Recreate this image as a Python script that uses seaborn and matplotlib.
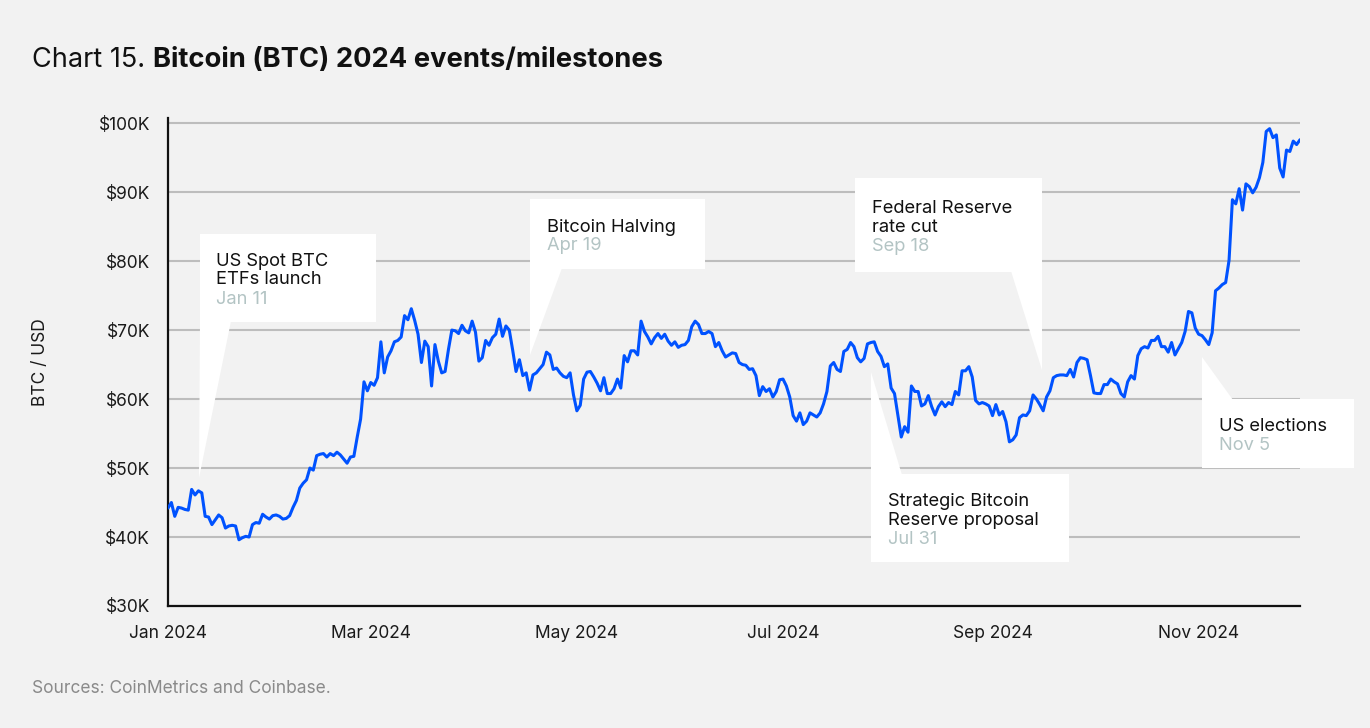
import matplotlib
matplotlib.use("Agg")
import matplotlib.pyplot as plt
from matplotlib.patches import Polygon, Rectangle
import seaborn as sns
import pandas as pd

# BTC / USD daily close, in $K
jan = [44.2, 45.0, 43.0, 44.3, 44.2, 44.0, 43.9, 46.9, 46.1, 46.7, 46.4, 43.0, 42.9, 41.8, 42.5, 43.2,
       42.8, 41.3, 41.6, 41.7, 41.6, 39.6, 39.9, 40.1, 40.0, 41.8, 42.1, 42.0, 43.3, 42.9, 42.6]
feb = [43.1, 43.2, 43.0, 42.6, 42.7, 43.1, 44.3, 45.3, 47.1, 47.8, 48.3, 50.0, 49.7, 51.8, 52.0,
       52.1, 51.6, 52.1, 51.8, 52.3, 51.9, 51.3, 50.7, 51.6, 51.7, 54.5, 57.1, 62.5, 61.2]
mar = [62.4, 62.0, 63.1, 68.3, 63.8, 66.1, 67.0, 68.3, 68.5, 69.0, 72.1, 71.5, 73.1, 71.4, 69.4, 65.3,
       68.4, 67.6, 61.9, 67.9, 65.5, 63.8, 64.0, 67.2, 70.0, 69.9, 69.5, 70.7, 69.9, 69.6, 71.3]
apr = [69.7, 65.5, 66.0, 68.5, 67.8, 68.9, 69.4, 71.6, 69.1, 70.6, 70.0, 67.1, 64.0, 65.7, 63.4,
       63.8, 61.3, 63.5, 63.8, 64.4, 65.0, 66.8, 66.4, 64.3, 64.5, 63.8, 63.3, 63.1, 63.8, 60.6]
may = [58.3, 59.1, 62.9, 63.9, 64.0, 63.2, 62.3, 61.2, 63.1, 60.8, 60.8, 61.5, 62.9, 61.6, 66.3, 65.4,
       67.0, 67.0, 66.4, 71.3, 69.8, 69.0, 68.0, 68.9, 69.5, 68.8, 69.4, 68.4, 67.8, 68.3, 67.5]
jun = [67.8, 67.9, 68.5, 70.5, 71.3, 70.8, 69.5, 69.5, 69.8, 69.5, 67.6, 68.2, 67.0, 66.1, 66.4,
       66.7, 66.6, 65.3, 65.0, 64.9, 64.3, 64.4, 63.4, 60.5, 61.8, 61.1, 61.5, 60.3, 61.1, 62.8]
jul = [62.9, 61.9, 60.3, 57.6, 56.8, 58.0, 56.3, 56.8, 58.0, 57.7, 57.4, 58.0, 59.3, 61.1, 64.8, 65.3,
       64.3, 64.0, 66.9, 67.2, 68.2, 67.6, 66.0, 65.4, 65.9, 68.0, 68.2, 68.3, 66.9, 66.2, 64.7]
aug = [65.1, 61.6, 60.8, 57.6, 54.5, 56.0, 55.2, 61.9, 61.1, 61.1, 59.0, 59.3, 60.5, 58.9, 57.7, 58.9,
       59.6, 58.9, 59.5, 59.2, 61.1, 60.6, 64.1, 64.1, 64.7, 63.2, 59.8, 59.3, 59.5, 59.3, 59.0]
sep = [57.6, 59.2, 57.7, 58.2, 56.7, 53.8, 54.1, 54.8, 57.3, 57.7, 57.6, 58.3, 60.6, 60.0, 59.2,
       58.3, 60.3, 61.2, 63.1, 63.4, 63.5, 63.5, 63.4, 64.3, 63.2, 65.3, 66.0, 65.9, 65.7, 63.4]
octo = [60.9, 60.8, 60.8, 62.1, 62.1, 62.9, 62.5, 62.2, 60.8, 60.3, 62.5, 63.4, 62.9, 66.3, 67.3, 67.6,
        67.4, 68.5, 68.5, 69.1, 67.6, 67.6, 66.8, 68.2, 66.4, 67.3, 68.2, 69.8, 72.7, 72.5, 70.3]
nov = [69.4, 69.2, 68.6, 67.9, 69.6, 75.7, 76.1, 76.6, 76.9, 80.1, 88.9, 88.3, 90.5, 87.4, 91.2,
       90.8, 89.9, 90.7, 92.1, 94.3, 98.8, 99.2, 97.9, 98.3, 93.5, 92.2, 96.1, 95.9, 97.4, 96.9]
dec = [97.6]

x_ticks = ["2024-01-01", "2024-03-01", "2024-05-01", "2024-07-01", "2024-09-01", "2024-11-01"]
x_labels = ["Jan 2024", "Mar 2024", "May 2024", "Jul 2024", "Sep 2024", "Nov 2024"]
y_ticks = [30, 40, 50, 60, 70, 80, 90, 100]
y_labels = ["$30K", "$40K", "$50K", "$60K", "$70K", "$80K", "$90K", "$100K"]

event_names = [["US Spot BTC", "ETFs launch"], ["Bitcoin Halving"], ["Federal Reserve", "rate cut"],
               ["Strategic Bitcoin", "Reserve proposal"], ["US elections"]]
event_dates = ["Jan 11", "Apr 19", "Sep 18", "Jul 31", "Nov 5"]

prices = jan + feb + mar + apr + may + jun + jul + aug + sep + octo + nov + dec
df = pd.DataFrame({"date": pd.date_range("2024-01-01", periods=len(prices), freq="D"), "price": prices})

W, H = 1370, 728
BG = "#f2f2f2"
BLUE = "#0052ff"

# callout layout in pixels: box (x0, y0, x1, y1), tail triangle, text x, first baseline
callouts = [
    ((200, 234, 376, 322), [(200, 321), (231, 321), (199, 478)], 216, 265.5),
    ((530, 199, 705, 269), [(530, 268), (562, 268), (530, 355)], 547, 231.5),
    ((855, 178, 1042, 272), [(1011, 271), (1042, 271), (1042, 370)], 872, 213),
    ((871, 474, 1069, 562), [(871, 372), (871, 475), (902, 475)], 888, 506),
    ((1202, 399, 1354, 468), [(1202, 357), (1202, 400), (1233, 400)], 1219, 431),
]


def fxy(px, py):
    return px / W, 1 - py / H


sns.set_theme(style="white")
plt.rcParams["font.family"] = ["Inter", "DejaVu Sans"]

fig = plt.figure(figsize=(W / 100, H / 100), dpi=100, facecolor=BG)
ax = fig.add_axes([168 / W, 1 - 606 / H, (1300 - 168) / W, (606 - 118) / H])
ax.set_facecolor(BG)

sns.lineplot(data=df, x="date", y="price", color=BLUE, linewidth=2.2, ax=ax, zorder=3)

ax.set_xlim(df["date"].iloc[0], df["date"].iloc[-1])
ax.set_ylim(30, 100.75)
ax.set_xticks(pd.to_datetime(x_ticks))
ax.set_xticklabels(x_labels)
ax.set_yticks(y_ticks)
ax.set_yticklabels(y_labels)
ax.tick_params(axis="both", length=0, labelsize=12.5, colors="#1a1a1a")
ax.tick_params(axis="y", pad=13)
ax.tick_params(axis="x", pad=14)
ax.set_xlabel("")
ax.set_ylabel("BTC / USD", fontsize=12.5, color="#1a1a1a")
ax.yaxis.set_label_coords(-0.105, 0.5)

ax.yaxis.grid(True, color="#bdbdbd", linewidth=1.5)
ax.xaxis.grid(False)
ax.set_axisbelow(True)
for s in ["top", "right"]:
    ax.spines[s].set_visible(False)
for s in ["left", "bottom"]:
    ax.spines[s].set_color("#111111")
    ax.spines[s].set_linewidth(1.6)

# callouts
for (box, tail, tx, base), names, dt in zip(callouts, event_names, event_dates):
    x0, y0, x1, y1 = box
    bx, by = fxy(x0, y1)
    ax.add_patch(Rectangle((bx, by), (x1 - x0) / W, (y1 - y0) / H, transform=fig.transFigure,
                           facecolor="white", edgecolor="none", zorder=1.5, clip_on=False))
    ax.add_patch(Polygon([fxy(*p) for p in tail], closed=True, transform=fig.transFigure,
                         facecolor="white", edgecolor="none", zorder=1.5, clip_on=False))
    for i, line in enumerate(names + [dt]):
        color = "#b3c4c4" if i == len(names) else "#111111"
        fig.text(*fxy(tx, base + i * 19), line, fontsize=13.2, color=color, va="baseline", ha="left",
                 zorder=5)

# title
t1 = fig.text(*fxy(32, 67), "Chart 15.", fontsize=19.5, color="#111111", va="baseline")
fig.canvas.draw()
ext = t1.get_window_extent()
fig.text((ext.x1 + 8) / W, 1 - 67 / H, "Bitcoin (BTC) 2024 events/milestones", fontsize=19.7,
         fontweight="bold", color="#111111", va="baseline")

fig.text(*fxy(32, 693), "Sources: CoinMetrics and Coinbase.", fontsize=12.5, color="#8a8a8a", va="baseline")

fig.savefig("out.png", dpi=100, facecolor=BG)
